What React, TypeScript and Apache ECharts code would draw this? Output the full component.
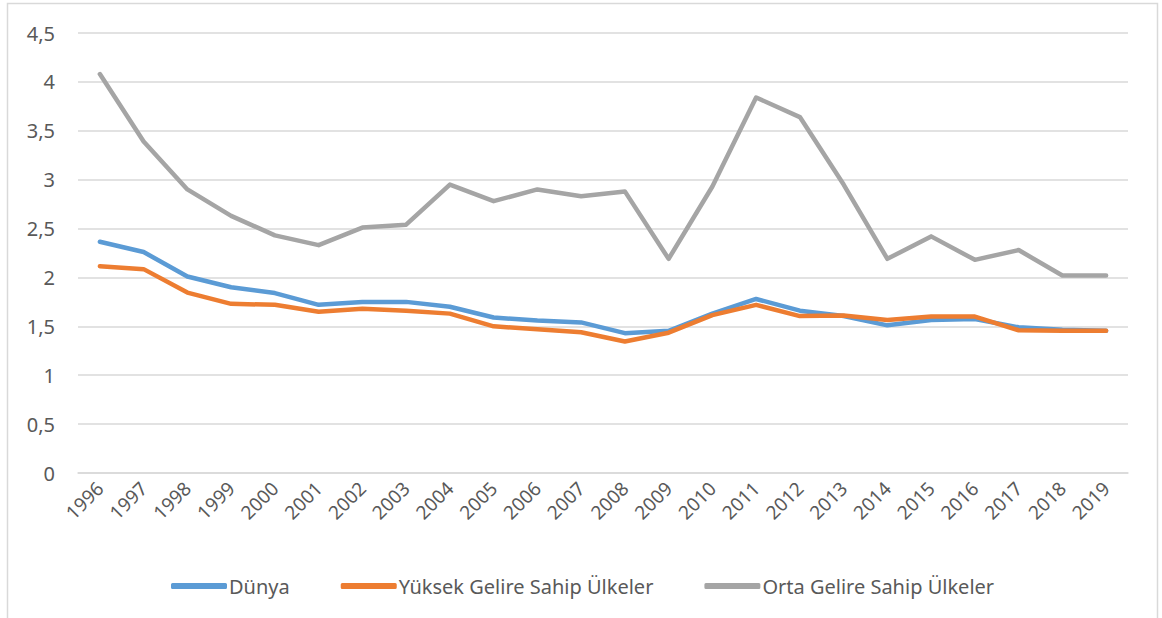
import React, { useEffect, useRef } from "react";
import * as echarts from "echarts";

const years = ["1996","1997","1998","1999","2000","2001","2002","2003","2004","2005","2006","2007","2008","2009","2010","2011","2012","2013","2014","2015","2016","2017","2018","2019"];
const dunya = [2.365,2.26,2.01,1.9,1.84,1.72,1.75,1.75,1.7,1.59,1.56,1.54,1.43,1.455,1.63,1.78,1.66,1.605,1.51,1.565,1.575,1.49,1.465,1.455];
const yuksek = [2.115,2.085,1.845,1.73,1.72,1.65,1.68,1.66,1.63,1.5,1.47,1.44,1.345,1.435,1.615,1.72,1.605,1.61,1.565,1.6,1.6,1.46,1.455,1.455];
const orta = [4.08,3.39,2.9,2.63,2.43,2.33,2.51,2.54,2.95,2.78,2.9,2.83,2.88,2.19,2.93,3.84,3.64,2.95,2.19,2.42,2.18,2.28,2.02,2.02];
const seriesNames = ["Dünya","Yüksek Gelire Sahip Ülkeler","Orta Gelire Sahip Ülkeler"];
const colors = ["#5b9bd5","#ed7d31","#a5a5a5"];

export default function App() {
  const ref = useRef<HTMLDivElement>(null);
  useEffect(() => {
    const chart = echarts.init(ref.current!, null, { renderer: "svg" });
    const font = "'Noto Sans', sans-serif";
    const data = [dunya, yuksek, orta];
    chart.setOption({
      animation: false,
      backgroundColor: "#ffffff",
      textStyle: { fontFamily: font },
      graphic: [
        {
          type: "rect",
          shape: { x: 7.5, y: 3.5, width: 1150, height: 630 },
          style: { fill: "none", stroke: "#d9d9d9", lineWidth: 1.5 },
          silent: true,
        },
      ],
      grid: { left: 78, right: 34, top: 33, bottom: 145, containLabel: false },
      legend: {
        data: seriesNames.map((n, i) => ({ name: n, icon: "roundRect", itemStyle: { color: colors[i] } })),
        top: 571,
        left: 166,
        itemWidth: 56,
        itemHeight: 6,
        itemGap: 51,
        textStyle: { color: "#595959", fontSize: 20, fontFamily: font, padding: [0, 0, 0, -3] },
      },
      xAxis: {
        type: "category",
        data: years,
        boundaryGap: true,
        axisLine: { lineStyle: { color: "#d9d9d9", width: 1.5 } },
        axisTick: { show: false },
        axisLabel: { rotate: 45, color: "#595959", fontSize: 19, fontFamily: font, margin: 12 },
      },
      yAxis: {
        type: "value",
        min: 0,
        max: 4.5,
        interval: 0.5,
        axisLine: { show: false },
        axisTick: { show: false },
        splitLine: { lineStyle: { color: "#d9d9d9", width: 1.5 } },
        axisLabel: {
          color: "#595959",
          fontSize: 20,
          fontFamily: font,
          margin: 23,
          formatter: (v: number) => String(v).replace(".", ","),
        },
      },
      series: seriesNames.map((n, i) => ({
        name: n,
        type: "line",
        data: data[i],
        symbol: "none",
        showSymbol: false,
        lineStyle: { color: colors[i], width: 4.5, cap: "round", join: "round" },
        itemStyle: { color: colors[i] },
      })),
    });
    return () => chart.dispose();
  }, []);
  return (
    <div
      ref={ref}
      style={{ position: "fixed", left: 0, top: 0, width: 1162, height: 618, background: "#fff" }}
    />
  );
}
